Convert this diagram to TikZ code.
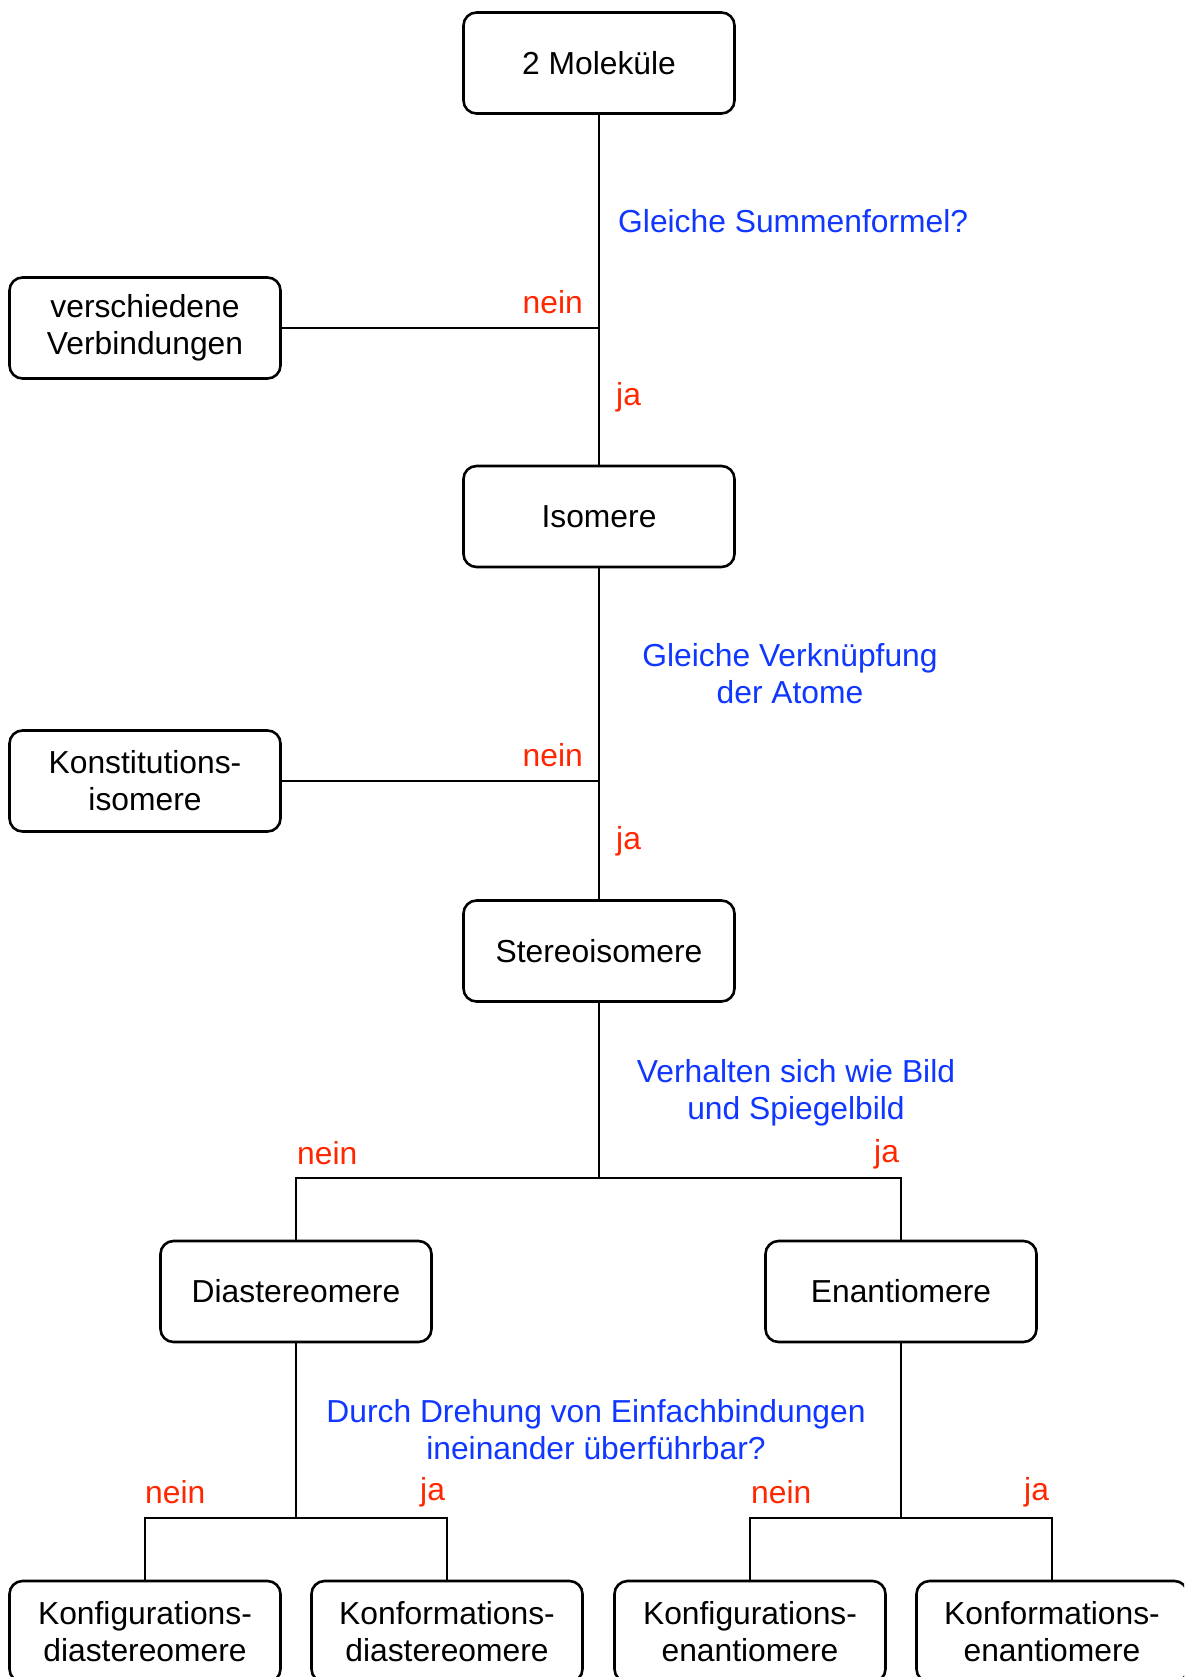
\documentclass[tikz,border=0pt]{standalone}
\usepackage{fontspec}
\setmainfont{Liberation Sans}
\definecolor{qblue}{RGB}{15,55,255}
\definecolor{ared}{RGB}{255,38,0}
\begin{document}
\begin{tikzpicture}[x=1pt,y=-1pt,
  box/.style={draw, line width=2.6pt, rounded corners=13pt, minimum width=271pt,
    minimum height=101pt, inner sep=0pt, align=center, font=\fontsize{31.8}{37}\selectfont},
  conn/.style={line width=2.4pt},
  question/.style={text=qblue, align=center, inner sep=0pt, font=\fontsize{31.8}{37}\selectfont},
  answer/.style={text=ared, inner sep=0pt, font=\fontsize{31.8}{37}\selectfont}]
\useasboundingbox (0,0) rectangle (1184,1677);
\clip (0,0) rectangle (1184,1677);

% boxes
\node[box] (mol) at (599,63) {2 Moleküle};
\node[box] (versch) at (145,328) {verschiedene\\Verbindungen};
\node[box] (iso) at (599,516.5) {Isomere};
\node[box] (konst) at (145,781) {Konstitutions-\\isomere};
\node[box] (stereo) at (599,951) {Stereoisomere};
\node[box] (dia) at (296,1291.5) {Diastereomere};
\node[box] (enan) at (901,1291.5) {Enantiomere};
\node[box] (kfd) at (145,1631.5) {Konfigurations-\\diastereomere};
\node[box] (kmd) at (447,1631.5) {Konformations-\\diastereomere};
\node[box] (kfe) at (750,1631.5) {Konfigurations-\\enantiomere};
\node[box] (kme) at (1052,1631.5) {Konformations-\\enantiomere};

% junction points
\coordinate (j1) at (599,328);
\coordinate (j2) at (599,781);
\coordinate (j3) at (599,1178);
\coordinate (j4) at (296,1518);
\coordinate (j5) at (901,1518);

% connectors
\draw[conn] (mol.south) -- (iso.north);
\draw[conn] (versch.east) -- (j1);
\draw[conn] (iso.south) -- (stereo.north);
\draw[conn] (konst.east) -- (j2);
\draw[conn] (stereo.south) -- (j3);
\draw[conn] (dia.north) |- (j3) -| (enan.north);
\draw[conn] (dia.south) -- (j4);
\draw[conn] (kfd.north) |- (j4) -| (kmd.north);
\draw[conn] (enan.south) -- (j5);
\draw[conn] (kfe.north) |- (j5) -| (kme.north);

% questions
\node[question, anchor=base west] (q1) at (618,232.5) {Gleiche Summenformel?};
\node[question, anchor=north] (q2) at (790,643) {Gleiche Verknüpfung\\der Atome};
\node[question, anchor=north] (q3) at (796,1059.5) {Verhalten sich wie Bild\\und Spiegelbild};
\node[question, anchor=north] (q4) at (596,1399.5) {Durch Drehung von Einfachbindungen\\ineinander überführbar?};

% answers
\node[answer, anchor=base east] (n1) at (583,313) {nein};
\node[answer, anchor=base west] (y1) at (616,405) {ja};
\node[answer, anchor=base east] (n2) at (583,766.5) {nein};
\node[answer, anchor=base west] (y2) at (616,849) {ja};
\node[answer, anchor=base west] (n3) at (297,1164) {nein};
\node[answer, anchor=base west] (y3) at (874,1162) {ja};
\node[answer, anchor=base west] (n4) at (145,1503) {nein};
\node[answer, anchor=base west] (y4) at (420,1500) {ja};
\node[answer, anchor=base west] (n5) at (751,1503) {nein};
\node[answer, anchor=base west] (y5) at (1024,1500) {ja};
\end{tikzpicture}
\end{document}
